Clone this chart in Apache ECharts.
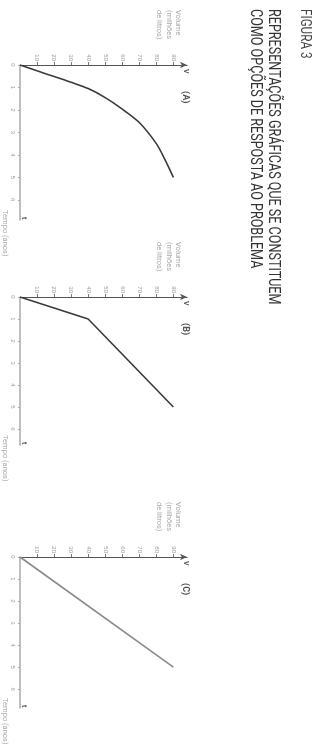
<!DOCTYPE html>
<html>
<head>
<meta charset="utf-8">
<script src="https://cdn.jsdelivr.net/npm/echarts@6/dist/echarts.min.js"></script>
<style>
  html, body { margin: 0; padding: 0; background: #fff; }
  #chart { width: 327px; height: 755px; }
</style>
</head>
<body>
<div id="chart"></div>
<script>
// volume ticks (x10 units) and time ticks
const volTicks = [10, 20, 30, 40, 50, 60, 70, 80, 90]
const timeTicks = [1, 2, 3, 4, 5, 6]

// (A) curve: volume and time
const volA = [0, 10, 20, 30, 40, 50, 60, 70, 80, 85, 90]
const timeA = [0, 0.26, 0.51, 0.77, 1.05, 1.45, 1.96, 2.56, 3.5, 4.2, 5.0]
// (B) two segments
const volB = [0, 40, 90]
const timeB = [0, 1, 5]
// (C) straight line
const volC = [0, 90]
const timeC = [0, 5]

const pairs = (v, t) => v.map((x, i) => [x, t[i]])

const panels = [
  { tag: '(A)', top: 65, height: 155, tmax: 6.9, data: pairs(volA, timeA), smooth: true, color: '#3a3a3a' },
  { tag: '(B)', top: 297, height: 148, tmax: 6.73, data: pairs(volB, timeB), smooth: false, color: '#3a3a3a' },
  { tag: '(C)', top: 557, height: 151, tmax: 6.86, data: pairs(volC, timeC), smooth: false, color: '#8a8a8a' },
]

const chart = echarts.init(document.getElementById('chart'))

const grids = [], xAxes = [], yAxes = [], series = [], graphics = []

const rot = -Math.PI / 2
function vtext(x, y, text, size, color, weight, squeeze) {
  return {
    type: 'text', x: x, y: y, rotation: rot, scaleX: squeeze || 1,
    style: {
      text: text, fill: color,
      font: (weight || 'normal') + ' ' + size + 'px Roboto, "DejaVu Sans", sans-serif',
      align: 'left', verticalAlign: 'top', lineHeight: size + 2,
    },
  }
}

panels.forEach((p, i) => {
  grids.push({ left: 20, top: p.top, width: 167, height: p.height })
  xAxes.push({
    gridIndex: i, type: 'value', position: 'top', min: 0, max: 98, interval: 10,
    axisLine: { lineStyle: { color: '#555', width: 1.2 }, symbol: ['none', 'arrow'], symbolSize: [5, 7] },
    axisTick: { show: true, length: 3, lineStyle: { color: '#777' } },
    axisLabel: {
      show: true, rotate: -90, fontSize: 6, color: '#999', margin: 4,
      showMinLabel: false, showMaxLabel: false,
      formatter: v => (volTicks.includes(v) ? String(v) : ''),
    },
    splitLine: { show: false },
  })
  yAxes.push({
    gridIndex: i, type: 'value', inverse: true, min: 0, max: p.tmax, interval: 1,
    axisLine: { lineStyle: { color: '#aaa', width: 1.5 } },
    axisTick: { show: true, length: 2, lineStyle: { color: '#aaa' } },
    axisLabel: {
      show: true, rotate: -90, fontSize: 6, color: '#999', margin: 4, showMaxLabel: false,
      formatter: v => (v === 0 || timeTicks.includes(v) ? String(v) : ''),
    },
    splitLine: { show: false },
  })
  series.push({
    type: 'line', xAxisIndex: i, yAxisIndex: i, data: p.data, smooth: p.smooth ? 0.3 : false,
    showSymbol: false, lineStyle: { color: p.color, width: 1.6 }, silent: true,
  })
  const axisEnd = p.top + p.height
  graphics.push(vtext(190, p.top + 4, 'V', 7, '#555', 'bold'))
  graphics.push(vtext(191, p.top + 26, p.tag, 9, '#555', 'bold'))
  graphics.push(vtext(183, p.top - 55, 'Volume\n(milhões\nde litros)', 7.5, '#aaa'))
  graphics.push(vtext(28, axisEnd - 3, 't', 7, '#555', 'bold'))
  graphics.push(vtext(10, axisEnd - 10, 'Tempo (anos)', 7.5, '#aaa'))
})

graphics.push(vtext(313, 9, 'FIGURA 3', 15, '#444', 'normal', 0.78))
graphics.push(vtext(283, 9, 'REPRESENTAÇÕES GRÁFICAS QUE SE CONSTITUEM', 17, '#333', 'normal', 0.74))
graphics.push(vtext(265, 9, 'COMO OPÇÕES DE RESPOSTA AO PROBLEMA', 17, '#333', 'normal', 0.74))

chart.setOption({
  animation: false,
  grid: grids,
  xAxis: xAxes,
  yAxis: yAxes,
  series: series,
  graphic: graphics,
})
</script>
</body>
</html>
